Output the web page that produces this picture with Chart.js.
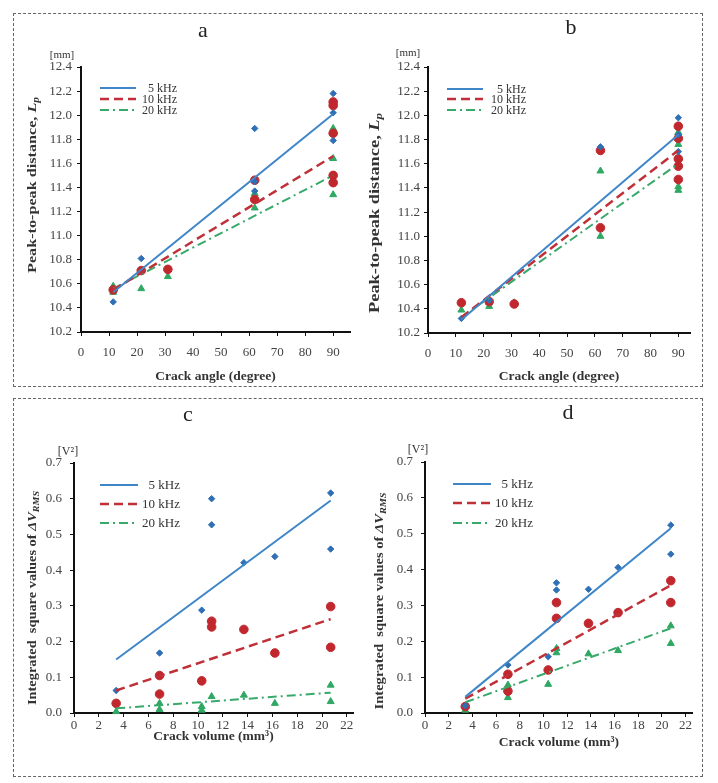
<!DOCTYPE html>
<html>
<head>
<meta charset="utf-8">
<script src="https://cdn.jsdelivr.net/npm/chart.js@4.4.0/dist/chart.umd.min.js"></script>
<style>
body { margin: 0; background: #fff; width: 718px; height: 783px; position: relative; overflow: hidden; }
.box { position: absolute; border: 1px dashed #666; }
canvas { position: absolute; }
</style>
</head>
<body>
<div class="box" style="left:13px;top:13px;width:688px;height:372px"></div>
<div class="box" style="left:13px;top:398px;width:688px;height:377px"></div>
<canvas id="ca" width="350" height="371" style="left:14px;top:14px"></canvas>
<canvas id="cb" width="336" height="371" style="left:362px;top:14px"></canvas>
<canvas id="cc" width="350" height="345" style="left:14px;top:400px"></canvas>
<canvas id="cd" width="336" height="351" style="left:362px;top:400px"></canvas>
<script>
// tick labels
const angleTicks = [0, 10, 20, 30, 40, 50, 60, 70, 80, 90];
const volumeTicks = [0, 2, 4, 6, 8, 10, 12, 14, 16, 18, 20, 22];
const mmTicks = [10.2, 10.4, 10.6, 10.8, 11.0, 11.2, 11.4, 11.6, 11.8, 12.0, 12.2, 12.4];
const v2Ticks = [0.0, 0.1, 0.2, 0.3, 0.4, 0.5, 0.6, 0.7];
const seriesNames = ['5 kHz', '10 kHz', '20 kHz'];

// panel a : peak-to-peak distance vs crack angle
const a5 = [[11.5,10.45],[21.5,10.81],[62,11.89],[62,11.45],[62,11.37],[90,12.18],[90,12.02],[90,11.79]];
const a10 = [[11.5,10.55],[21.5,10.71],[31,10.72],[62,11.46],[62,11.30],[90,12.11],[90,12.08],[90,11.85],[90,11.50],[90,11.44]];
const a20 = [[11.5,10.58],[11.5,10.53],[21.5,10.56],[31,10.66],[62,11.35],[62,11.23],[90,11.89],[90,11.64],[90,11.34]];
const aFit5 = [[11.5,10.53],[90,12.01]];
const aFit10 = [[11.5,10.55],[90,11.66]];
const aFit20 = [[11.5,10.56],[90,11.50]];

// panel b
const b5 = [[12,10.32],[22,10.47],[62,11.74],[90,11.98],[90,11.84],[90,11.70]];
const b10 = [[12,10.45],[22,10.46],[31,10.44],[62,11.71],[62,11.07],[90,11.91],[90,11.81],[90,11.64],[90,11.58],[90,11.47]];
const b20 = [[12,10.39],[22,10.45],[22,10.42],[31,10.45],[62,11.54],[62,11.00],[90,11.86],[90,11.76],[90,11.41],[90,11.38]];
const bFit5 = [[12,10.31],[90,11.84]];
const bFit10 = [[12,10.33],[90,11.71]];
const bFit20 = [[12,10.33],[90,11.60]];

// panel c : integrated square values vs crack volume
const c5 = [[3.4,0.063],[6.9,0.168],[10.3,0.288],[11.1,0.600],[11.1,0.527],[13.7,0.421],[16.2,0.438],[20.7,0.616],[20.7,0.459]];
const c10 = [[3.4,0.027],[6.9,0.105],[6.9,0.053],[10.3,0.090],[11.1,0.257],[11.1,0.241],[13.7,0.234],[16.2,0.168],[20.7,0.298],[20.7,0.184]];
const c20 = [[3.4,0.004],[6.9,0.027],[6.9,0.010],[10.3,0.018],[10.3,0.008],[11.1,0.046],[13.7,0.050],[16.2,0.027],[20.7,0.078],[20.7,0.032]];
const cFit5 = [[3.4,0.150],[20.7,0.595]];
const cFit10 = [[3.4,0.063],[20.7,0.263]];
const cFit20 = [[3.4,0.013],[20.7,0.057]];

// panel d
const d5 = [[3.4,0.020],[7,0.134],[10.4,0.157],[11.1,0.363],[11.1,0.343],[13.8,0.345],[16.3,0.406],[20.75,0.524],[20.75,0.443]];
const d10 = [[3.4,0.018],[7,0.108],[7,0.061],[10.4,0.120],[11.1,0.308],[11.1,0.264],[13.8,0.250],[16.3,0.280],[20.75,0.369],[20.75,0.308]];
const d20 = [[3.4,0.008],[7,0.078],[7,0.043],[10.4,0.080],[11.1,0.180],[11.1,0.168],[13.8,0.165],[16.3,0.174],[20.75,0.243],[20.75,0.194]];
const dFit5 = [[3.4,0.045],[20.75,0.515]];
const dFit10 = [[3.4,0.040],[20.75,0.356]];
const dFit20 = [[3.4,0.030],[20.75,0.236]];

const FONT = '"Liberation Serif", "Times New Roman", serif';
Chart.defaults.font.family = FONT;
Chart.defaults.color = '#3a3a3a';

const blue = '#2f6fb6', red = '#c0282e', green = '#2ea862';
const marks = [
  { color: blue, style: 'rectRot', r: 3.2 },
  { color: red, style: 'circle', r: 4.3 },
  { color: green, style: 'triangle', r: 4 }
];
const fitLook = [
  { color: '#3f86c8', dash: [], w: 2 },
  { color: '#bf3038', dash: [9, 5], w: 2.5 },
  { color: '#38a96a', dash: [9, 4, 2, 4], w: 2 }
];

const toXY = pts => pts.map(p => ({ x: p[0], y: p[1] }));

// draws panel letter, unit, rotated y title and the in-plot legend
const decor = {
  id: 'decor',
  afterDraw(chart, args, o) {
    const ctx = chart.ctx;
    const ox = o.left, oy = o.top;
    ctx.save();
    ctx.fillStyle = '#222';
    ctx.textBaseline = 'middle';
    ctx.textAlign = 'center';
    ctx.font = '22px ' + FONT;
    ctx.fillText(o.letter, o.letterAt[0] - ox, o.letterAt[1] - oy);
    ctx.font = o.unitSize + 'px ' + FONT;
    ctx.fillStyle = '#333';
    ctx.fillText(o.unit, o.unitAt[0] - ox, o.unitAt[1] - oy);

    // y title with italic / subscript parts, stretched to the reference length
    ctx.save();
    ctx.translate(o.yTitleAt[0] - ox, o.yTitleAt[1] - oy);
    ctx.rotate(-Math.PI / 2);
    ctx.textAlign = 'left';
    const fontOf = p => (p.i ? 'italic ' : '') + 'bold ' + (p.sub ? o.ySize * 0.7 : o.ySize) + 'px ' + FONT;
    let total = 0;
    o.yTitle.forEach(p => { ctx.font = fontOf(p); total += ctx.measureText(p.t).width; });
    ctx.scale(o.yLen / total, 1);
    let x = -total / 2;
    o.yTitle.forEach(p => {
      ctx.font = fontOf(p);
      ctx.fillText(p.t, x, p.sub ? o.ySize * 0.3 : 0);
      x += ctx.measureText(p.t).width;
    });
    ctx.restore();

    // legend
    const fits = chart.data.datasets.filter(d => d.fit);
    ctx.textAlign = 'right';
    ctx.font = o.legend.size + 'px ' + FONT;
    fits.forEach((d, i) => {
      const y = o.legend.y[i] - oy;
      ctx.strokeStyle = d.borderColor;
      ctx.lineWidth = d.borderWidth;
      ctx.setLineDash(d.borderDash);
      ctx.beginPath();
      ctx.moveTo(o.legend.x0 - ox, y);
      ctx.lineTo(o.legend.x1 - ox, y);
      ctx.stroke();
      ctx.setLineDash([]);
      ctx.fillStyle = '#333';
      ctx.fillText(d.label, o.legend.tx - ox, y + 0.5);
    });
    ctx.restore();
  }
};

function makeChart(id, p) {
  const cv = document.getElementById(id);
  const left = parseFloat(cv.style.left), top = parseFloat(cv.style.top);
  const datasets = [];
  p.fits.forEach((f, i) => {
    datasets.push({
      type: 'line', fit: true, label: seriesNames[i], data: toXY(f),
      borderColor: fitLook[i].color, borderWidth: fitLook[i].w, borderDash: fitLook[i].dash,
      pointRadius: 0, fill: false, clip: false, order: 0
    });
  });
  p.series.forEach((s, i) => {
    datasets.push({
      type: 'scatter', label: seriesNames[i] + ' data', data: toXY(s),
      pointStyle: marks[i].style, pointRadius: marks[i].r,
      backgroundColor: marks[i].color, borderColor: marks[i].color, borderWidth: 1,
      clip: false, order: 1
    });
  });
  const ca = p.area;
  return new Chart(cv, {
    type: 'scatter',
    data: { datasets },
    plugins: [decor],
    options: {
      responsive: false,
      animation: false,
      events: [],
      layout: { padding: { left: 0, top: ca.t - top, right: left + cv.width - ca.r, bottom: 0 } },
      plugins: {
        legend: { display: false },
        tooltip: { enabled: false },
        decor: Object.assign({ left, top }, p.decor)
      },
      scales: {
        x: {
          type: 'linear', min: 0, max: p.xMax,
          afterBuildTicks: s => { s.ticks = p.xTicks.map(v => ({ value: v })); },
          afterFit: s => { s.height = top + cv.height - ca.b; },
          ticks: { font: { size: 13 }, padding: p.xPad, maxRotation: 0, autoSkip: false, color: '#444' },
          grid: { drawOnChartArea: false, drawTicks: true, tickLength: 4, color: '#111' },
          border: { display: true, color: '#111', width: 2 },
          title: { display: true, text: p.xTitle, font: { size: 13.5, weight: 'bold' }, color: '#333', padding: 0 }
        },
        y: {
          type: 'linear', min: p.yTicks[0], max: p.yTicks[p.yTicks.length - 1],
          afterBuildTicks: s => { s.ticks = p.yTicks.map(v => ({ value: v })); },
          afterFit: s => { s.width = ca.l - left; },
          ticks: { font: { size: 13 }, padding: p.yPad, color: '#444', callback: v => v.toFixed(1) },
          grid: { drawOnChartArea: false, drawTicks: true, tickLength: 4, color: '#111' },
          border: { display: true, color: '#111', width: 2 }
        }
      }
    }
  });
}

const peakTitle = [{ t: 'Peak-to-peak distance, ' }, { t: 'L', i: true }, { t: 'p', i: true, sub: true }];
const rmsTitle = [{ t: 'Integrated  square values of ' }, { t: '\u0394V', i: true }, { t: 'RMS', i: true, sub: true }];

makeChart('ca', {
  series: [a5, a10, a20], fits: [aFit5, aFit10, aFit20],
  xTicks: angleTicks, yTicks: mmTicks, xMax: 96, xPad: 9, yPad: 5,
  xTitle: 'Crack angle (degree)',
  area: { l: 81, t: 67, r: 350, b: 332 },
  decor: { letter: 'a', letterAt: [203, 31], unit: '[mm]', unitAt: [62, 55], unitSize: 11,
    yTitle: peakTitle, yTitleAt: [33, 185], ySize: 13.5, yLen: 176,
    legend: { x0: 100, x1: 136, tx: 177, y: [88, 99, 110], size: 12 } }
});

makeChart('cb', {
  series: [b5, b10, b20], fits: [bFit5, bFit10, bFit20],
  xTicks: angleTicks, yTicks: mmTicks, xMax: 94.2, xPad: 9, yPad: 4,
  xTitle: 'Crack angle (degree)',
  area: { l: 428, t: 67, r: 690, b: 333 },
  decor: { letter: 'b', letterAt: [571, 28], unit: '[mm]', unitAt: [408, 53], unitSize: 11,
    yTitle: peakTitle, yTitleAt: [375, 213], ySize: 14, yLen: 200,
    legend: { x0: 447, x1: 483, tx: 526, y: [89, 99, 110], size: 12 } }
});

makeChart('cc', {
  series: [c5, c10, c20], fits: [cFit5, cFit10, cFit20],
  xTicks: volumeTicks, yTicks: v2Ticks, xMax: 22.5, xPad: 1, yPad: 8,
  xTitle: 'Crack volume (mm\u00b3)',
  area: { l: 74, t: 463, r: 353, b: 713 },
  decor: { letter: 'c', letterAt: [188, 415], unit: '[V\u00b2]', unitAt: [68, 452], unitSize: 12,
    yTitle: rmsTitle, yTitleAt: [33, 598], ySize: 13, yLen: 214,
    legend: { x0: 100, x1: 138, tx: 180, y: [485, 504, 523], size: 13 } }
});

makeChart('cd', {
  series: [d5, d10, d20], fits: [dFit5, dFit10, dFit20],
  xTicks: volumeTicks, yTicks: v2Ticks, xMax: 22.6, xPad: 1, yPad: 8,
  xTitle: 'Crack volume (mm\u00b3)',
  area: { l: 425, t: 462, r: 695, b: 713 },
  decor: { letter: 'd', letterAt: [568, 413], unit: '[V\u00b2]', unitAt: [418, 450], unitSize: 12,
    yTitle: rmsTitle, yTitleAt: [380, 601], ySize: 13, yLen: 217,
    legend: { x0: 453, x1: 491, tx: 533, y: [484, 503, 523], size: 13 } }
});
</script>
</body>
</html>
